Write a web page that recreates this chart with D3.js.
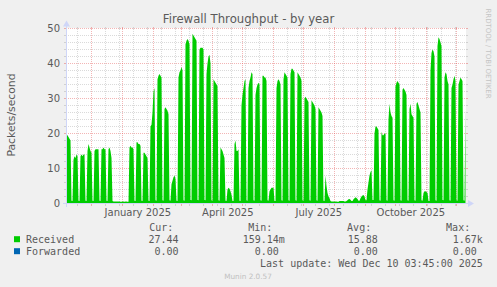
<!DOCTYPE html>
<html>
<head>
<meta charset="utf-8">
<script src="https://cdn.jsdelivr.net/npm/d3@7"></script>
<style>
  html, body { margin: 0; padding: 0; background: #f0f0f0; }
  svg { display: block; }
</style>
</head>
<body>
<div id="chart"></div>
<script>
// ---- data (one value per day) ----
var startDate = new Date(2024, 10, 5, 3, 45);
var endDate = new Date(2025, 11, 10, 3, 45);

var received = [
  19.5, 19.5, 19, 18.5, 18, 0.8, 0.7,
  12.5, 13.5, 13, 14, 13.5, 0.8, 0.7,
  13.5, 14, 13.5, 14, 14, 0.8, 0.7,
  15, 17, 16, 15, 14.5, 0.8, 0.7,
  15, 15.5, 15.5, 15.5, 15.5, 0.8, 0.7,
  15.5, 15.5, 16, 15.5, 15.5, 0.8, 0.7,
  15.5, 16, 15, 13, 0.7, 0.6, 0.6,
  0.6, 0.6, 0.6, 0.6, 0.6, 0.5, 0.5,
  0.6, 0.6, 0.5, 0.6, 0.6, 0.5, 0.5,
  16, 16.5, 16, 16, 15.5, 0.8, 0.7,
  17.5, 17.5, 17, 17, 16.5, 0.8, 0.7,
  14.5, 14.5, 14, 13.5, 13, 0.8, 0.7,
  22, 22.5, 26, 32, 33, 0.9, 0.8,
  35.5, 36.5, 37, 36.5, 36, 0.9, 0.8,
  27, 27.5, 27, 26.5, 25.5, 0.9, 0.8,
  5.5, 6.5, 7.5, 8, 7, 0.8, 0.7,
  36, 37.5, 38, 39, 38, 0.9, 0.8,
  45.5, 46.5, 47, 46.5, 45.5, 1, 0.9,
  48.5, 48, 47.5, 47, 46.5, 1, 0.9,
  44, 44.5, 44.5, 44.5, 44, 1, 0.9,
  37, 40, 42, 42.5, 40, 0.9, 0.8,
  35.5, 35, 34.5, 34, 33.5, 0.9, 0.8,
  16, 15.5, 15, 14, 13, 0.8, 0.7,
  4, 4.5, 4.2, 3.5, 2.5, 0.7, 0.7,
  17, 18, 15, 15, 15.5, 0.8, 0.7,
  28, 31, 33, 35, 35.5, 0.9, 0.8,
  33, 35, 36, 37.5, 37, 0.9, 0.8,
  31, 33, 34, 34.5, 34, 0.9, 0.8,
  36.5, 36.5, 36, 36, 35, 0.9, 0.8,
  3.5, 4, 4.5, 4.5, 4.5, 0.7, 0.7,
  33, 35, 35.5, 35, 34, 0.9, 0.8,
  35.5, 37.5, 37, 36.5, 36, 0.9, 0.8,
  37, 38.5, 38.5, 38, 37.5, 0.9, 0.8,
  37.5, 37, 36.5, 36, 35, 0.9, 0.8,
  30, 30.5, 30, 29.5, 29, 0.9, 0.8,
  29.5, 29, 28.5, 28, 27, 0.9, 0.8,
  27.5, 27, 26.5, 26, 25, 0.8, 0.7,
  8, 5, 3, 2, 1.5, 0.7, 0.6,
  0.6, 0.6, 0.6, 0.6, 0.6, 0.5, 0.5,
  0.7, 0.7, 0.7, 0.7, 0.7, 0.6, 0.6,
  0.7, 0.9, 1.2, 1.3, 1.1, 0.7, 0.7,
  1.2, 1.5, 1.8, 1.6, 1.3, 0.8, 0.8,
  1.5, 2, 2.3, 2.4, 2, 0.9, 0.9,
  4, 6, 8, 9, 9.5, 1, 1,
  20, 22, 22, 21.5, 21, 0.9, 0.8,
  20.5, 19.5, 19.5, 20, 20, 0.9, 0.8,
  24, 28.5, 26, 25, 24.5, 0.9, 0.8,
  33.5, 34.5, 35, 34.5, 34, 0.9, 0.8,
  32.5, 33, 32.5, 32, 31, 0.9, 0.8,
  27, 28.5, 25.5, 25, 24.5, 0.9, 0.8,
  28.5, 29, 28, 27, 26, 0.9, 0.8,
  3, 3.5, 3.5, 3.3, 3, 0.7, 0.7,
  38, 43, 44, 43.5, 42, 0.9, 0.8,
  45, 47.5, 47, 46, 45, 1, 0.9,
  36, 37.5, 37, 35, 34, 0.9, 0.8,
  33, 34, 35.5, 36.5, 35, 0.9, 0.8,
  34, 35, 36, 35.5, 35, 0.9, 0.8,
  27.44
];
// forwarded stays at zero for the whole period
var forwarded = [0, 0];

var yTicks = [0, 10, 20, 30, 40, 50];
var labelMonths = [new Date(2025, 0, 1), new Date(2025, 3, 1), new Date(2025, 6, 1), new Date(2025, 9, 1)];
var labelTexts = ["January 2025", "April 2025", "July 2025", "October 2025"];

var statHeads = ["Cur:", "Min:", "Avg:", "Max:"];
var receivedStats = ["27.44\u00a0", "159.14m", "15.88\u00a0", "1.67k"];
var forwardedStats = ["0.00\u00a0", "0.00\u00a0", "0.00\u00a0", "0.00\u00a0"];
var seriesNames = ["Received", "Forwarded"];
var seriesColors = ["#00cc00", "#0066b3"];

(function() {
  var width = 497, height = 287;
  var plotLeft = 66, plotRight = 466, plotTop = 28.5, plotBottom = 203.5;
  var sans = "'DejaVu Sans', Verdana, sans-serif";
  var mono = "'DejaVu Sans Mono', monospace";
  var fontColor = "#5a5a5a";
  var axisColor = "#cfd6f8";
  var gridColor = "rgba(150,150,150,0.35)";
  var mgridColor = "rgba(225,70,70,0.4)";

  var svg = d3.select("#chart")
    .append("svg")
    .attr("width", width)
    .attr("height", height);

  svg.append("rect")
    .attr("width", width).attr("height", height)
    .attr("fill", "#f0f0f0");

  var x = d3.scaleTime().domain([startDate, endDate]).range([plotLeft, plotRight]);
  var y = d3.scaleLinear().domain([0, 50]).range([plotBottom, plotTop]);
  var day = 24 * 3600 * 1000;

  function crisp(v) { return Math.round(v - 0.5) + 0.5; }

  // canvas
  svg.append("rect")
    .attr("x", plotLeft).attr("y", plotTop - 0.5)
    .attr("width", plotRight - plotLeft).attr("height", plotBottom - plotTop + 0.5)
    .attr("fill", "#ffffff");

  var grid = svg.append("g").attr("shape-rendering", "crispEdges");

  // horizontal grid
  d3.range(2, 51, 2).forEach(function(v) {
    var major = v % 10 === 0;
    var c = major ? mgridColor : gridColor;
    grid.append("line")
      .attr("x1", plotLeft).attr("x2", plotRight)
      .attr("y1", y(v)).attr("y2", y(v))
      .attr("stroke", c).attr("stroke-dasharray", "1,1");
    grid.append("line")
      .attr("x1", plotLeft - 2).attr("x2", plotLeft)
      .attr("y1", y(v)).attr("y2", y(v)).attr("stroke", c);
    grid.append("line")
      .attr("x1", plotRight).attr("x2", plotRight + 2)
      .attr("y1", y(v)).attr("y2", y(v)).attr("stroke", c);
  });

  // vertical grid: months (major) and every second week (minor)
  var majors = d3.timeMonth.range(startDate, endDate);
  var minors = d3.timeWeek.range(new Date(2024, 10, 17), endDate, 2)
    .filter(function(d) { return d.getDate() !== 1; });

  function vline(d, c) {
    var px = crisp(x(d));
    grid.append("line")
      .attr("x1", px).attr("x2", px)
      .attr("y1", plotTop).attr("y2", plotBottom)
      .attr("stroke", c).attr("stroke-dasharray", "1,1");
    grid.append("line")
      .attr("x1", px).attr("x2", px)
      .attr("y1", plotBottom).attr("y2", plotBottom + 2).attr("stroke", c);
    grid.append("line")
      .attr("x1", px).attr("x2", px)
      .attr("y1", plotTop - 2).attr("y2", plotTop).attr("stroke", c);
  }
  minors.forEach(function(d) { vline(d, gridColor); });
  majors.forEach(function(d) { vline(d, mgridColor); });

  // received area
  var area = d3.area()
    .x(function(d, i) { return x(new Date(+startDate + (i + 0.5) * day)); })
    .y0(plotBottom)
    .y1(function(d) { return y(Math.min(d, 50)); });

  svg.append("path")
    .datum(received)
    .attr("d", area)
    .attr("fill", seriesColors[0]);

  // forwarded line
  svg.append("path")
    .datum(forwarded)
    .attr("d", d3.line()
      .x(function(d, i) { return i === 0 ? plotLeft : plotRight; })
      .y(function(d) { return y(d); }))
    .attr("fill", "none")
    .attr("stroke", seriesColors[1])
    .attr("stroke-width", 1);

  // axes
  var ax = svg.append("g").attr("shape-rendering", "crispEdges");
  ax.append("line")
    .attr("x1", plotLeft - 3).attr("x2", plotRight + 2)
    .attr("y1", plotBottom).attr("y2", plotBottom)
    .attr("stroke", axisColor);
  ax.append("line")
    .attr("x1", plotLeft + 0.5).attr("x2", plotLeft + 0.5)
    .attr("y1", plotBottom + 3).attr("y2", plotTop - 3)
    .attr("stroke", axisColor);
  svg.append("path")
    .attr("d", "M" + (plotRight + 2) + "," + (plotBottom - 3.5) + "L" + (plotRight + 8) + "," + plotBottom + "L" + (plotRight + 2) + "," + (plotBottom + 3.5) + "Z")
    .attr("fill", axisColor);
  svg.append("path")
    .attr("d", "M" + (plotLeft - 3) + "," + (plotTop - 2) + "L" + (plotLeft + 0.5) + "," + (plotTop - 8) + "L" + (plotLeft + 4) + "," + (plotTop - 2) + "Z")
    .attr("fill", axisColor);

  // y tick labels
  svg.selectAll(".ylab")
    .data(yTicks)
    .enter().append("text")
    .attr("class", "ylab")
    .attr("x", 60)
    .attr("y", function(d) { return y(d) + 3.6; })
    .attr("text-anchor", "end")
    .style("font-family", sans)
    .style("font-size", "10px")
    .style("fill", fontColor)
    .text(function(d) { return d; });

  // x labels centred in the month
  svg.selectAll(".xlab")
    .data(labelMonths)
    .enter().append("text")
    .attr("class", "xlab")
    .attr("x", function(d) { return x(new Date(+d + 15 * day)); })
    .attr("y", 215.5)
    .attr("text-anchor", "middle")
    .style("font-family", sans)
    .style("font-size", "10px")
    .style("fill", fontColor)
    .text(function(d, i) { return labelTexts[i]; });

  // title
  svg.append("text")
    .attr("x", 248.5).attr("y", 23)
    .attr("text-anchor", "middle")
    .style("font-family", sans)
    .style("font-size", "11.7px")
    .style("fill", fontColor)
    .text("Firewall Throughput - by year");

  // vertical label
  svg.append("text")
    .attr("transform", "translate(14.5,115) rotate(-90)")
    .attr("text-anchor", "middle")
    .style("font-family", sans)
    .style("font-size", "10.8px")
    .style("fill", fontColor)
    .text("Packets/second");

  // rrdtool watermark
  svg.append("text")
    .attr("transform", "translate(485.5,53.5) rotate(90)")
    .attr("text-anchor", "middle")
    .style("font-family", sans)
    .style("font-size", "7px")
    .style("fill", "#c4c4c4")
    .text("RRDTOOL / TOBI OETIKER");

  // legend
  var headEnds = [173.3, 272.3, 371.2, 470.2];
  var valEnds = [184.5, 284.8, 383.8, 482.8];

  svg.selectAll(".head")
    .data(statHeads)
    .enter().append("text")
    .attr("class", "head")
    .attr("x", function(d, i) { return headEnds[i]; })
    .attr("y", 231)
    .attr("text-anchor", "end")
    .style("font-family", mono)
    .style("font-size", "10px")
    .style("fill", fontColor)
    .text(function(d) { return d; });

  [receivedStats, forwardedStats].forEach(function(stats, r) {
    var by = 242.5 + r * 12;
    svg.append("rect")
      .attr("x", 14).attr("y", by - 6.3)
      .attr("width", 6).attr("height", 6)
      .attr("fill", seriesColors[r]);
    svg.append("text")
      .attr("x", 26).attr("y", by)
      .style("font-family", mono)
      .style("font-size", "10px")
      .style("fill", fontColor)
      .text(seriesNames[r]);
    stats.forEach(function(s, i) {
      svg.append("text")
        .attr("x", valEnds[i]).attr("y", by)
        .attr("text-anchor", "end")
        .style("font-family", mono)
        .style("font-size", "10px")
        .style("fill", fontColor)
        .text(s);
    });
  });

  svg.append("text")
    .attr("x", 482.8).attr("y", 266.5)
    .attr("text-anchor", "end")
    .style("font-family", mono)
    .style("font-size", "10px")
    .style("fill", fontColor)
    .text("Last update: Wed Dec 10 03:45:00 2025");

  svg.append("text")
    .attr("x", 248).attr("y", 279)
    .attr("text-anchor", "middle")
    .style("font-family", sans)
    .style("font-size", "7.3px")
    .style("fill", "#c0c0c0")
    .text("Munin 2.0.57");
})();
</script>
</body>
</html>
